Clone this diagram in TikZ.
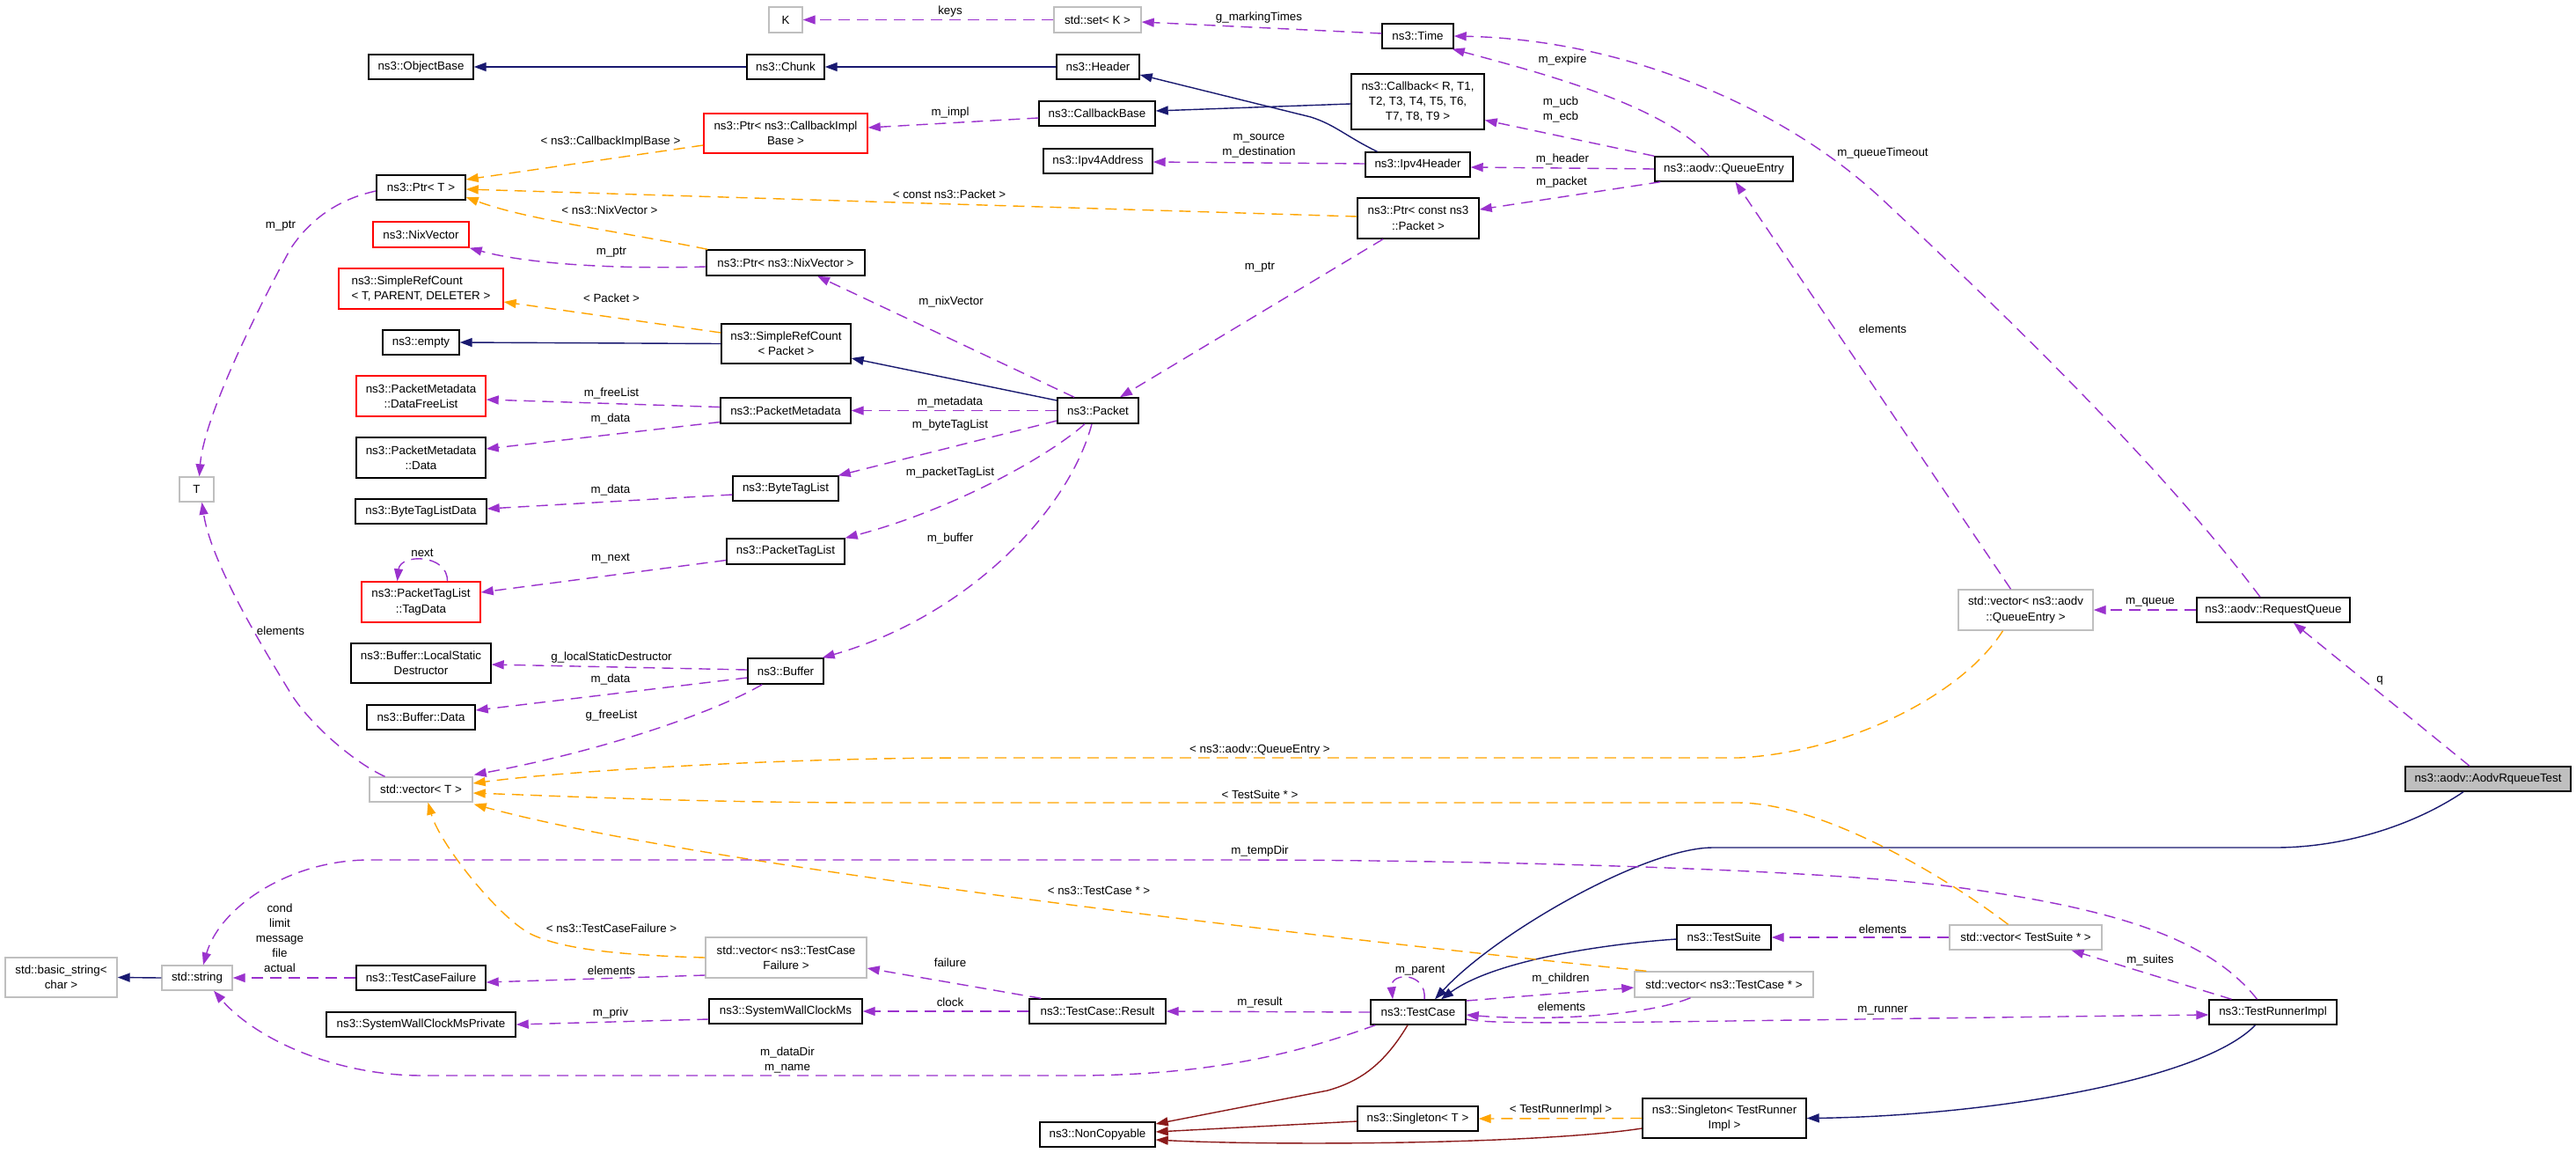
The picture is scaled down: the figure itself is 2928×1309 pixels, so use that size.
\documentclass[tikz,border=0pt]{standalone}
\usepackage{fontspec}
\setmainfont{Liberation Sans}
\usetikzlibrary{arrows.meta,calc}
\definecolor{inhblue}{HTML}{191970}
\definecolor{usepurple}{HTML}{9A32CD}
\definecolor{tplorange}{HTML}{FFA500}
\definecolor{privred}{HTML}{8B1A1A}
\definecolor{extgray}{HTML}{BFBFBF}
\tikzset{
  cls/.style={draw=black, line width=1.4pt, fill=white, inner sep=0pt, align=center, font=\fontsize{13.35}{17.3}\selectfont},
  clsred/.style={cls, draw=red},
  clsgray/.style={cls, draw=extgray},
  lbl/.style={inner sep=0pt, align=center, font=\fontsize{13.35}{17}\selectfont},
  tipend/.style={-{Triangle[length=14pt,width=10pt]}},
  inh/.style={draw=inhblue, line width=1.4pt, tipend},
  priv/.style={draw=privred, line width=1.4pt, tipend},
  usage/.style={draw=usepurple, line width=1.4pt, dash pattern=on 13pt off 8pt, tipend},
  tpl/.style={draw=tplorange, line width=1.4pt, dash pattern=on 13pt off 8pt, tipend}
}
\begin{document}
\begin{tikzpicture}[x=1pt,y=-1pt]
\fill[white] (0,0) rectangle (2928,1309);
\useasboundingbox (0,0) rectangle (2928,1309);

% ---------------- nodes ----------------
\node[cls,minimum width=119pt,minimum height=28pt] (ObjectBase) at (478.5,76) {ns3::ObjectBase};
\node[cls,minimum width=88pt,minimum height=28pt] (Chunk) at (893,76) {ns3::Chunk};
\node[cls,minimum width=94pt,minimum height=28pt] (Header) at (1248,76) {ns3::Header};
\node[clsgray,minimum width=38pt,minimum height=29pt] (K) at (893,22.5) {K};
\node[clsgray,minimum width=99pt,minimum height=29pt] (set) at (1247.5,22.5) {std::set< K >};
\node[cls,minimum width=81pt,minimum height=28pt] (Time) at (1611.5,41) {ns3::Time};
\node[cls,minimum width=151pt,minimum height=63pt] (Callback) at (1611.5,115.5) {ns3::Callback< R, T1,\\T2, T3, T4, T5, T6,\\T7, T8, T9 >};
\node[cls,minimum width=132pt,minimum height=28pt] (CallbackBase) at (1247,129) {ns3::CallbackBase};
\node[clsred,minimum width=186pt,minimum height=45pt] (PtrCIB) at (893,151.5) {ns3::Ptr< ns3::CallbackImpl\\Base >};
\node[cls,minimum width=101pt,minimum height=28pt] (PtrT) at (478.5,213) {ns3::Ptr< T >};
\node[cls,minimum width=124pt,minimum height=28pt] (Ipv4Address) at (1248,183) {ns3::Ipv4Address};
\node[cls,minimum width=119pt,minimum height=28pt] (Ipv4Header) at (1611.5,187) {ns3::Ipv4Header};
\node[cls,minimum width=157pt,minimum height=28pt] (QueueEntry) at (1959.5,192) {ns3::aodv::QueueEntry};
\node[cls,minimum width=138pt,minimum height=46pt] (PtrCP) at (1612,248) {ns3::Ptr< const ns3\\::Packet >};
\node[clsred,minimum width=109pt,minimum height=29pt] (NixVector) at (478.5,266.5) {ns3::NixVector};
\node[cls,minimum width=180pt,minimum height=29pt] (PtrNV) at (893,298.5) {ns3::Ptr< ns3::NixVector >};
\node[clsred,align=left,minimum width=187pt,minimum height=46pt] (SRCT) at (478.5,328) {ns3::SimpleRefCount\\< T, PARENT, DELETER >};
\node[cls,minimum width=147pt,minimum height=45pt] (SRCP) at (893.5,390.5) {ns3::SimpleRefCount\\< Packet >};
\node[cls,minimum width=87pt,minimum height=28pt] (empty) at (478.5,389) {ns3::empty};
\node[clsred,minimum width=147pt,minimum height=46pt] (DataFreeList) at (478.5,450) {ns3::PacketMetadata\\::DataFreeList};
\node[cls,minimum width=148pt,minimum height=29pt] (PacketMetadata) at (893,466.5) {ns3::PacketMetadata};
\node[cls,minimum width=92pt,minimum height=29pt] (Packet) at (1248,466.5) {ns3::Packet};
\node[cls,minimum width=147pt,minimum height=46pt] (PMData) at (478.5,520) {ns3::PacketMetadata\\::Data};
\node[cls,minimum width=149pt,minimum height=28pt] (ByteTagListData) at (478.5,581) {ns3::ByteTagListData};
\node[cls,minimum width=120pt,minimum height=28pt] (ByteTagList) at (893,555) {ns3::ByteTagList};
\node[cls,minimum width=134pt,minimum height=29pt] (PacketTagList) at (893,626.5) {ns3::PacketTagList};
\node[clsred,minimum width=135pt,minimum height=46pt] (TagData) at (478.5,684) {ns3::PacketTagList\\::TagData};
\node[clsgray,minimum width=39pt,minimum height=28pt] (T) at (223.5,556) {T};
\node[clsgray,minimum width=153pt,minimum height=46pt] (vecQE) at (2302.5,693) {std::vector< ns3::aodv\\::QueueEntry >};
\node[cls,minimum width=174pt,minimum height=28pt] (RequestQueue) at (2584,693) {ns3::aodv::RequestQueue};
\node[cls,minimum width=159pt,minimum height=45pt] (LSD) at (478.5,753.5) {ns3::Buffer::LocalStatic\\Destructor};
\node[cls,minimum width=86pt,minimum height=29pt] (Buffer) at (893,762.5) {ns3::Buffer};
\node[cls,minimum width=123pt,minimum height=28pt] (BufferData) at (478.5,815) {ns3::Buffer::Data};
\node[cls,fill=extgray,minimum width=188pt,minimum height=28pt] (AodvRqueueTest) at (2828,885) {ns3::aodv::AodvRqueueTest};
\node[clsgray,minimum width=117pt,minimum height=28pt] (vecT) at (478.5,897) {std::vector< T >};
\node[clsgray,minimum width=127pt,minimum height=45pt] (basicstring) at (69.5,1110.5) {std::basic\_string<\\char >};
\node[clsgray,minimum width=80pt,minimum height=28pt] (string) at (224,1111) {std::string};
\node[cls,minimum width=147pt,minimum height=28pt] (TCF) at (478.5,1111) {ns3::TestCaseFailure};
\node[cls,minimum width=215pt,minimum height=28pt] (SWCMP) at (478.5,1164) {ns3::SystemWallClockMsPrivate};
\node[clsgray,minimum width=183pt,minimum height=46pt] (vecTCF) at (893.5,1088) {std::vector< ns3::TestCase\\Failure >};
\node[cls,minimum width=174pt,minimum height=28pt] (SWCM) at (893,1149) {ns3::SystemWallClockMs};
\node[cls,minimum width=155pt,minimum height=28pt] (Result) at (1247.5,1149) {ns3::TestCase::Result};
\node[cls,minimum width=131pt,minimum height=28pt] (NonCopyable) at (1247.5,1289) {ns3::NonCopyable};
\node[cls,minimum width=107pt,minimum height=28pt] (TestSuite) at (1959.5,1065) {ns3::TestSuite};
\node[clsgray,minimum width=203pt,minimum height=29pt] (vecTC) at (1959.5,1118.5) {std::vector< ns3::TestCase * >};
\node[cls,minimum width=108pt,minimum height=28pt] (TestCase) at (1612,1150) {ns3::TestCase};
\node[clsgray,minimum width=173pt,minimum height=28pt] (vecTS) at (2302.5,1065) {std::vector< TestSuite * >};
\node[cls,minimum width=145pt,minimum height=28pt] (TestRunnerImpl) at (2583.5,1150) {ns3::TestRunnerImpl};
\node[cls,minimum width=137pt,minimum height=28pt] (SingletonT) at (1611.5,1271) {ns3::Singleton< T >};
\node[cls,minimum width=186pt,minimum height=45pt] (SingletonTRI) at (1960,1270.5) {ns3::Singleton< TestRunner\\Impl >};

% ---------------- inheritance ----------------
\draw[inh] (Chunk.west) -- (ObjectBase.east);
\draw[inh] (Header.west) -- (Chunk.east);
\draw[inh] ($(Ipv4Header.north)+(-46,0)$) .. controls (1530,155) and (1518,142) .. (1490,133) -- ($(Header.east)+(0,9)$);
\draw[inh] ($(Callback.west)+(0,2.5)$) -- ($(CallbackBase.east)+(0,-3)$);
\draw[inh] ($(Packet.west)+(0,-11.5)$) -- ($(SRCP.east)+(0,16.5)$);
\draw[inh] (SRCP.west) -- (empty.east);
\draw[inh] ($(AodvRqueueTest.south)+(-28,0)$) .. controls (2740,940) and (2660,963) .. (2586,963) -- (1947,963) .. controls (1870,963) and (1700,1060) .. ($(TestCase.north)+(19,0)$);
\draw[inh] ($(TestSuite.west)+(0,2)$) .. controls (1830,1072) and (1700,1090) .. ($(TestCase.north)+(26,0)$);
\draw[inh] ($(TestRunnerImpl.south)+(-20,0)$) .. controls (2500,1230) and (2250,1268) .. (SingletonTRI.east);
\draw[inh] (string.west) -- (basicstring.east);

% ---------------- private inheritance ----------------
\draw[priv] ($(TestCase.south)+(-12,0)$) .. controls (1570,1215) and (1540,1230) .. (1509,1239) -- ($(NonCopyable.east)+(0,-12)$);
\draw[priv] ($(SingletonT.west)+(0,3)$) -- ($(NonCopyable.east)+(0,-3)$);
\draw[priv] ($(SingletonTRI.west)+(0,11.5)$) .. controls (1750,1300) and (1450,1302) .. ($(NonCopyable.east)+(0,6)$);

% ---------------- template instances ----------------
\draw[tpl] ($(PtrCIB.west)+(0,13.5)$) -- ($(PtrT.east)+(0,-9)$);
\draw[tpl] ($(PtrCP.west)+(0,-2)$) -- ($(PtrT.east)+(0,2)$);
\draw[tpl] ($(PtrNV.north west)+(2,0)$) .. controls (700,262) and (600,250) .. ($(PtrT.east)+(0,11)$);
\draw[tpl] ($(SRCP.west)+(0,-12.5)$) -- ($(SRCT.east)+(0,15)$);
\draw[tpl] ($(vecQE.south)+(-26,0)$) .. controls (2230,790) and (2100,855) .. (1976,861) -- (1100,861) .. controls (900,861) and (650,875) .. ($(vecT.east)+(0,-7)$);
\draw[tpl] ($(vecTS.north)+(-20,0)$) .. controls (2210,995) and (2070,912) .. (1975,912) -- (1000,912) .. controls (800,912) and (650,905) .. ($(vecT.east)+(0,4)$);
\draw[tpl] ($(vecTC.north west)+(14,0)$) .. controls (1500,1065) and (800,985) .. ($(vecT.south east)+(1,2)$);
\draw[tpl] (vecTCF.west) .. controls (700,1085) and (640,1078) .. (605,1062) .. controls (570,1046) and (500,960) .. ($(vecT.south)+(8,0)$);
\draw[tpl] (SingletonTRI.west) -- (SingletonT.east);

% ---------------- usage ----------------
\draw[usage] (set.west) -- (K.east);
\draw[usage] ($(Time.west)+(0,-3)$) -- ($(set.east)+(0,2.5)$);
\draw[usage] ($(QueueEntry.north)+(-17,0)$) .. controls (1890,120) and (1760,85) .. ($(Time.south east)+(-2,0)$);
\draw[usage] ($(RequestQueue.north)+(-15,0)$) .. controls (2450,520) and (2250,330) .. (2140,227) .. controls (2030,124) and (1850,45) .. (Time.east);
\draw[usage] (QueueEntry.north west) -- ($(Callback.east)+(0,21)$);
\draw[usage] (QueueEntry.west) -- ($(Ipv4Header.east)+(0,3)$);
\draw[usage] ($(QueueEntry.south west)+(7,0)$) -- ($(PtrCP.east)+(0,-10)$);
\draw[usage] ($(Ipv4Header.west)+(0,-1)$) -- ($(Ipv4Address.east)+(0,1)$);
\draw[usage] ($(CallbackBase.west)+(0,5)$) -- ($(PtrCIB.east)+(0,-6.5)$);
\draw[usage] ($(PtrT.west)+(0,4)$) .. controls (390,225) and (355,245) .. (330,283) .. controls (300,338) and (232,470) .. ($(T.north)+(3,0)$);
\draw[usage] ($(PtrNV.west)+(0,4.5)$) .. controls (700,306) and (600,300) .. (NixVector.south east);
\draw[usage] ($(Packet.north)+(-27,0)$) -- ($(PtrNV.south)+(36,0)$);
\draw[usage] ($(PtrCP.south)+(-40,0)$) -- ($(Packet.north)+(25,0)$);
\draw[usage] (Packet.west) -- (PacketMetadata.east);
\draw[usage] ($(Packet.west)+(0,11.5)$) -- ($(ByteTagList.north east)+(-1,0)$);
\draw[usage] ($(Packet.south)+(-15,0)$) .. controls (1190,520) and (1080,580) .. (PacketTagList.north east);
\draw[usage] ($(Packet.south)+(-7,0)$) .. controls (1215,580) and (1100,700) .. ($(Buffer.north east)+(-2,0)$);
\draw[usage] ($(PacketMetadata.west)+(0,-4)$) -- ($(DataFreeList.east)+(0,4)$);
\draw[usage] ($(PacketMetadata.west)+(0,13)$) -- ($(PMData.east)+(0,-10)$);
\draw[usage] ($(ByteTagList.west)+(0,7)$) -- ($(ByteTagListData.east)+(0,-3)$);
\draw[usage] ($(PacketTagList.west)+(0,10)$) -- ($(TagData.east)+(0,-11)$);
\draw[usage] ($(TagData.north)+(30,0)$) .. controls (509,629) and (455,629) .. ($(TagData.north)+(-27,0)$);
\draw[usage] ($(Buffer.west)+(0,-1.5)$) -- ($(LSD.east)+(0,1.5)$);
\draw[usage] ($(Buffer.west)+(0,7.5)$) -- ($(BufferData.east)+(0,-8)$);
\draw[usage] ($(Buffer.south west)+(17,0)$) .. controls (820,805) and (700,850) .. ($(vecT.north east)+(1,-2)$);
\draw[usage] ($(vecT.north)+(-41,0)$) .. controls (400,865) and (350,820) .. (330,787) .. controls (300,738) and (240,640) .. ($(T.south)+(6,0)$);
\draw[usage] ($(vecQE.north)+(-17,0)$) -- ($(QueueEntry.south)+(13,0)$);
\draw[usage] (RequestQueue.west) -- (vecQE.east);
\draw[usage] ($(AodvRqueueTest.north)+(-21,0)$) -- ($(RequestQueue.south)+(23,0)$);
\draw[usage] ($(TestRunnerImpl.north)+(-18,0)$) .. controls (2510,1065) and (2400,1030) .. (2200,1005) .. controls (2050,988) and (1700,977) .. (1400,977) -- (420,977) .. controls (330,977) and (250,1030) .. ($(string.north)+(7,0)$);
\draw[usage] (TCF.west) -- (string.east);
\draw[usage] ($(TestCase.south west)+(6,0)$) .. controls (1480,1195) and (1380,1222) .. (1220,1222) -- (480,1222) .. controls (380,1222) and (290,1180) .. ($(string.south)+(19,0)$);
\draw[usage] ($(vecTCF.west)+(0,20)$) -- ($(TCF.east)+(0,5)$);
\draw[usage] ($(SWCM.west)+(0,9)$) -- (SWCMP.east);
\draw[usage] ($(Result.north west)+(14,0)$) -- ($(vecTCF.east)+(0,12)$);
\draw[usage] (Result.west) -- (SWCM.east);
\draw[usage] (TestCase.west) -- (Result.east);
\draw[usage] ($(TestCase.north)+(7,0)$) .. controls (1622,1104) and (1580,1104) .. ($(TestCase.north)+(-29,0)$);
\draw[usage] ($(TestCase.east)+(0,-13)$) -- ($(vecTC.west)+(0,3.5)$);
\draw[usage] ($(vecTC.south)+(-38,0)$) .. controls (1870,1155) and (1750,1160) .. ($(TestCase.east)+(0,3)$);
\draw[usage] ($(TestCase.east)+(0,8)$) .. controls (1700,1166) and (1900,1160) .. ($(TestRunnerImpl.west)+(0,3)$);
\draw[usage] (vecTS.west) -- (TestSuite.east);
\draw[usage] ($(TestRunnerImpl.north)+(-47,0)$) -- ($(vecTS.south)+(52,0)$);

% ---------------- labels ----------------
\node[lbl] (lb1) at (1080,13) {keys};
\node[lbl] (lb2) at (1431,20) {g\_markingTimes};
\node[lbl] (lb3) at (694,161) {< ns3::CallbackImplBase >};
\node[lbl] (lb4) at (1080,128) {m\_impl};
\node[lbl] (lb5) at (1776,68) {m\_expire};
\node[lbl] (lb6) at (1774,124.5) {m\_ucb\\m\_ecb};
\node[lbl] (lb7) at (1431,165.5) {m\_source\\m\_destination};
\node[lbl] (lb8) at (1776,181) {m\_header};
\node[lbl] (lb9) at (1775,207) {m\_packet};
\node[lbl] (lb10) at (2140,174) {m\_queueTimeout};
\node[lbl] (lb11) at (1079,221) {< const ns3::Packet >};
\node[lbl] (lb12) at (693,239) {< ns3::NixVector >};
\node[lbl] (lb13) at (319,257) {m\_ptr};
\node[lbl] (lb14) at (695,287) {m\_ptr};
\node[lbl] (lb15) at (1432,304) {m\_ptr};
\node[lbl] (lb16) at (695,339) {< Packet >};
\node[lbl] (lb17) at (1081,343) {m\_nixVector};
\node[lbl] (lb18) at (2140,374) {elements};
\node[lbl] (lb19) at (695,447) {m\_freeList};
\node[lbl] (lb20) at (1080,457) {m\_metadata};
\node[lbl] (lb21) at (694,476) {m\_data};
\node[lbl] (lb22) at (1080,483) {m\_byteTagList};
\node[lbl] (lb23) at (1080,537) {m\_packetTagList};
\node[lbl] (lb24) at (694,557) {m\_data};
\node[lbl] (lb25) at (1080,612) {m\_buffer};
\node[lbl] (lb26) at (480,628) {next};
\node[lbl] (lb27) at (694,635) {m\_next};
\node[lbl] (lb28) at (2444,684) {m\_queue};
\node[lbl] (lb29) at (319,717) {elements};
\node[lbl] (lb30) at (695,747) {g\_localStaticDestructor};
\node[lbl] (lb31) at (694,772) {m\_data};
\node[lbl] (lb32) at (2705,773) {q};
\node[lbl] (lb33) at (695,813) {g\_freeList};
\node[lbl] (lb34) at (1432,852) {< ns3::aodv::QueueEntry >};
\node[lbl] (lb35) at (1432,903) {< TestSuite * >};
\node[lbl] (lb36) at (1432,967) {m\_tempDir};
\node[lbl] (lb37) at (1249,1012) {< ns3::TestCase * >};
\node[lbl] (lb38) at (695,1055) {< ns3::TestCaseFailure >};
\node[lbl] (lb39) at (2140,1056) {elements};
\node[lbl] (lb40) at (318,1066) {cond\\limit\\message\\file\\actual};
\node[lbl] (lb41) at (1080,1094) {failure};
\node[lbl] (lb42) at (2444,1091) {m\_suites};
\node[lbl] (lb43) at (695,1103) {elements};
\node[lbl] (lb44) at (1614,1103) {m\_parent};
\node[lbl] (lb45) at (1774,1112) {m\_children};
\node[lbl] (lb46) at (1080,1139) {clock};
\node[lbl] (lb47) at (1432,1139) {m\_result};
\node[lbl] (lb48) at (1775,1144) {elements};
\node[lbl] (lb49) at (2140,1148) {m\_runner};
\node[lbl] (lb50) at (694,1151) {m\_priv};
\node[lbl] (lb51) at (895,1204.5) {m\_dataDir\\m\_name};
\node[lbl] (lb52) at (1774,1261) {< TestRunnerImpl >};
\end{tikzpicture}
\end{document}
